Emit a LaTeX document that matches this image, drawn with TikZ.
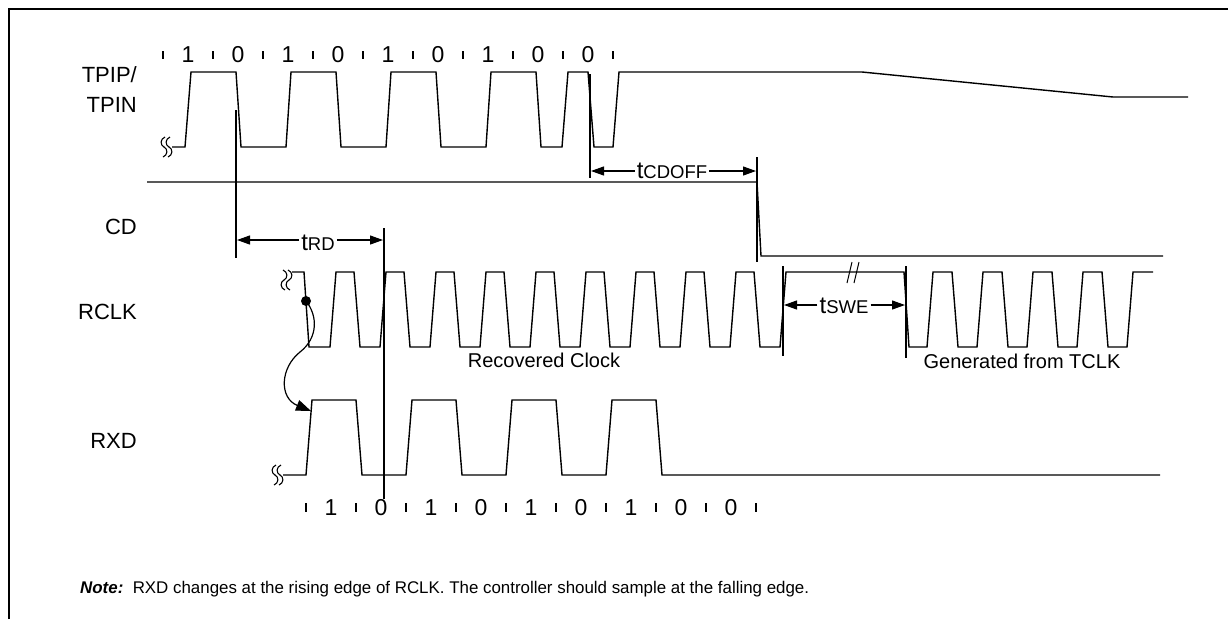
\documentclass[tikz,border=0pt]{standalone}
\usepackage{fontspec}
\setmainfont{Liberation Sans}
\usetikzlibrary{arrows.meta}
\newcommand\tlab[1]{{\fontsize{24}{26}\selectfont t}{\fontsize{18.5}{20}\selectfont #1}}
\begin{document}
\begin{tikzpicture}[x=1pt,y=-1pt,
  wave/.style={line width=1.4pt, line join=miter},
  frameln/.style={line width=2pt},
  markln/.style={line width=1.3pt},
  tickbar/.style={line width=1.1pt},
  dimarr/.style={line width=1.2pt, -{Triangle[length=13pt,width=9pt]}},
  lbl/.style={font=\fontsize{22}{26}\selectfont, inner sep=0pt},
  dig/.style={font=\fontsize{23}{26}\selectfont, inner sep=0pt},
  captxt/.style={font=\fontsize{20}{24}\selectfont, inner sep=0pt},
  tlbl/.style={inner sep=2pt},
  brk/.pic={
    \draw[line width=1.1pt] (0,-10) .. controls (-5,-8) and (-5,-2) .. (-1,0) .. controls (3,2) and (3,8) .. (-2,10);
    \draw[line width=1.1pt] (5,-10) .. controls (0,-8) and (0,-2) .. (4,0) .. controls (8,2) and (8,8) .. (3,10);
  }]
\useasboundingbox (0,0) rectangle (1228,619);
% frame
\draw[frameln] (9,619) -- (9,9) -- (1228,9);

% signal labels
\node[lbl, anchor=base east] (ltpip) at (137,82) {TPIP/};
\node[lbl, anchor=base east] (ltpin) at (137,112) {TPIN};
\node[lbl, anchor=base east] (lcd) at (137,234) {CD};
\node[lbl, anchor=base east] (lrclk) at (137,319) {RCLK};
\node[lbl, anchor=base east] (lrxd) at (137,448) {RXD};

% top bit row
\foreach \i in {0,...,9} \draw[tickbar] ({163+50*\i},51) -- ({163+50*\i},59);
\foreach \d [count=\i from 0] in {1,0,1,0,1,0,1,0,0}
  \node[dig, anchor=base] (td\i) at ({188+50*\i},62) {\d};
% bottom bit row
\foreach \i in {0,...,9} \draw[tickbar] ({306+50*\i},503) -- ({306+50*\i},512);
\foreach \d [count=\i from 0] in {1,0,1,0,1,0,1,0,0}
  \node[dig, anchor=base] (bd\i) at ({331+50*\i},515) {\d};

% TPIP/TPIN
\pic at (165,147) {brk};
\draw[wave] (172,147) -- (185,147) -- (191,72) -- (236,72) -- (241,147)
  -- (286,147) -- (291,72) -- (336,72) -- (341,147)
  -- (386,147) -- (391,72) -- (436,72) -- (441,147)
  -- (486,147) -- (491,72) -- (536,72) -- (541,147)
  -- (562,147) -- (568,72) -- (588,72) -- (594,147)
  -- (613,147) -- (619,72) -- (862,72) -- (1113,97) -- (1188,97);

% CD
\draw[wave] (147,182) -- (757,182) -- (761,256) -- (1163,256);

% RCLK
\pic[xscale=-1] at (288,280) {brk};
\draw[wave] (292,272) -- (304,272) -- (309,347) -- (330,347)
  \foreach \k in {0,...,8} { -- ({336+50*\k},272) -- ({354+50*\k},272) -- ({360+50*\k},347) -- ({380+50*\k},347) }
  -- (786,272) -- (904,272) -- (909,347) -- (927,347)
  \foreach \k in {0,...,3} { -- ({933+50*\k},272) -- ({952+50*\k},272) -- ({958+50*\k},347) -- ({977+50*\k},347) }
  -- (1133,272) -- (1153,272);
% break mark on long high
\draw[line width=1pt] (847,283) -- (852,262);
\draw[line width=1pt] (854,283) -- (859,262);

% RXD
\pic at (276,475) {brk};
\draw[wave] (283,475) -- (306,475)
  \foreach \k in {0,...,3} { -- ({312+100*\k},400) -- ({356+100*\k},400) -- ({362+100*\k},475) -- ({406+100*\k},475) }
  -- (1160,475);

% markers
\coordinate (m1t) at (236,110); \coordinate (m1b) at (236,258);
\coordinate (m2t) at (590,74);  \coordinate (m2b) at (590,178);
\coordinate (m3t) at (757,157); \coordinate (m3b) at (757,262);
\coordinate (m4t) at (384,228); \coordinate (m4b) at (384,499);
\coordinate (m5t) at (783,266); \coordinate (m5b) at (783,356);
\coordinate (m6t) at (906,266); \coordinate (m6b) at (906,358);
\foreach \a/\b in {m1t/m1b,m2t/m2b,m3t/m3b,m4t/m4b,m5t/m5b,m6t/m6b}
  \draw[markln] (\a) -- (\b);

% tRD
\coordinate (rdL) at (237,240); \coordinate (rdR) at (383,240);
\node[tlbl, anchor=base] (trd) at (318,250) {\tlab{RD}};
\draw[dimarr] (trd.west |- rdL) -- (rdL);
\draw[dimarr] (trd.east |- rdR) -- (rdR);

% tCDOFF
\coordinate (cdL) at (591,171); \coordinate (cdR) at (756,171);
\node[tlbl, anchor=base] (tcd) at (672,178) {\tlab{CDOFF}};
\draw[dimarr] (tcd.west |- cdL) -- (cdL);
\draw[dimarr] (tcd.east |- cdR) -- (cdR);

% tSWE
\coordinate (swL) at (784,305); \coordinate (swR) at (905,305);
\node[tlbl, anchor=base] (tsw) at (844,313) {\tlab{SWE}};
\draw[dimarr] (tsw.west |- swL) -- (swL);
\draw[dimarr] (tsw.east |- swR) -- (swR);

% captions
\node[captxt, anchor=base] (rec) at (544,367) {Recovered Clock};
\node[captxt, anchor=base] (gen) at (1022,368) {Generated from TCLK};

% causal arrow
\coordinate (dot) at (306,301);
\coordinate (rxdedge) at (311,411);
\fill (dot) circle (5);
\draw[line width=1.2pt, -{Triangle[length=15pt,width=11pt]}] (dot) .. controls (318,316) and (318,338) .. (300,352) .. controls (280,368) and (279,398) .. (rxdedge);

% note
\node[anchor=base west, inner sep=0pt, font=\fontsize{16.9}{20}\selectfont] (note) at (80,593)
  {\textbf{\textit{Note:}}\ \ RXD changes at the rising edge of RCLK. The controller should sample at the falling edge.};
\end{tikzpicture}
\end{document}
